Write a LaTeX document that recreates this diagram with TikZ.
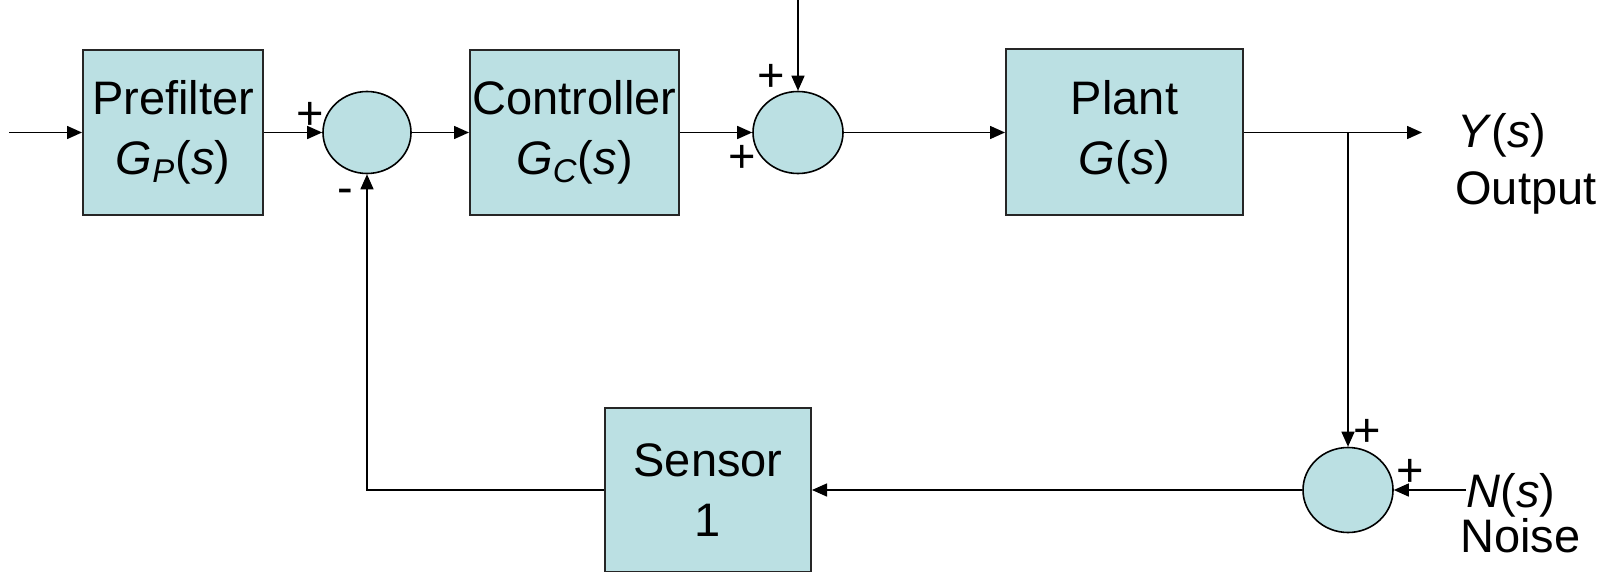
\documentclass[tikz,border=0pt]{standalone}
\usepackage{fontspec}
\setmainfont{Liberation Sans}
\usepackage{tikz}
\usetikzlibrary{shapes.geometric, arrows.meta, positioning}
\definecolor{boxfill}{RGB}{187, 224, 227}
\tikzstyle{block} = [
    draw=black!85,
    fill=boxfill,
    line width=1pt,
    align=center,
    inner sep=0pt
]
\tikzstyle{sum} = [
    ellipse,
    draw=black,
    fill=boxfill,
    line width=0.8pt,
    inner sep=0pt
]
\tikzstyle{arrow} = [
    line width=0.75pt,
    -{Triangle[length=7.5pt, width=6.5pt]}
]
\tikzstyle{label} = [inner sep=0pt, anchor=base west]
\tikzstyle{sign} = [inner sep=0pt]

\begin{document}
\begin{tikzpicture}[x=0.5pt, y=-0.5pt, font=\fontsize{23.5}{30}\selectfont]
        \useasboundingbox (0, 0) rectangle (1610, 572);

        % Blocks
        \node[block, minimum width=90pt, minimum height=82.5pt] (prefilter) at (173, 132.5) {Prefilter\\\textit{G}\textsubscript{\textit{P}}(\textit{s})};
        \node[block, minimum width=104.5pt, minimum height=82.5pt] (controller) at (574.5, 132.5) {Controller\\\textit{G}\textsubscript{\textit{C}}(\textit{s})};
        \node[block, minimum width=118.5pt, minimum height=83pt] (plant) at (1124.5, 132.5) {Plant\\\textit{G}(\textit{s})};
        \node[block, minimum width=103pt, minimum height=82pt] (sensor) at (708, 490) {Sensor\\1};

        % Summing junctions
        \node[sum, minimum width=44pt, minimum height=41pt] (sumA) at (367, 132.5) {};
        \node[sum, minimum width=45pt, minimum height=41pt] (sumB) at (798, 132.5) {};
        \node[sum, minimum width=45pt, minimum height=42.5pt] (sumC) at (1348, 490) {};

        % Free ends
        \coordinate (in) at (9, 132.5);
        \coordinate (dist) at (798, 0);
        \coordinate (out) at (1422, 132.5);
        \coordinate (branch) at (1348, 132.5);
        \coordinate (noise) at (1466, 490);

        % Forward path
        \draw[arrow] (in) -- (prefilter.west);
        \draw[arrow] (prefilter.east) -- (sumA.west);
        \draw[arrow] (sumA.east) -- (controller.west);
        \draw[arrow] (controller.east) -- (sumB.west);
        \draw[arrow] (dist) -- (sumB.north);
        \draw[arrow] (sumB.east) -- (plant.west);
        \draw[arrow] (plant.east) -- (out);

        % Feedback path
        \draw[arrow] (branch) -- (sumC.north);
        \draw[arrow] (noise) -- (sumC.east);
        \draw[arrow] (sumC.west) -- (sensor.east);
        \draw[arrow] (sensor.west) -| (sumA.south);

        % Signs
        \node[sign] (plusA) at (310, 116) {+};
        \node[sign] (minusA) at (345, 196) {-};
        \node[sign] (plusB1) at (771, 78) {+};
        \node[sign] (plusB2) at (742, 159) {+};
        \node[sign] (plusC1) at (1367, 433) {+};
        \node[sign] (plusC2) at (1410, 473) {+};

        % Signal labels
        \node[label] (ylabel) at (1457, 148) {\textit{Y}(\textit{s})};
        \node[label] (outlabel) at (1455, 205) {Output};
        \node[label] (nlabel) at (1466, 507) {\textit{N}(\textit{s})};
        \node[label] (noiselabel) at (1460, 552) {Noise};
    \end{tikzpicture}
\end{document}
